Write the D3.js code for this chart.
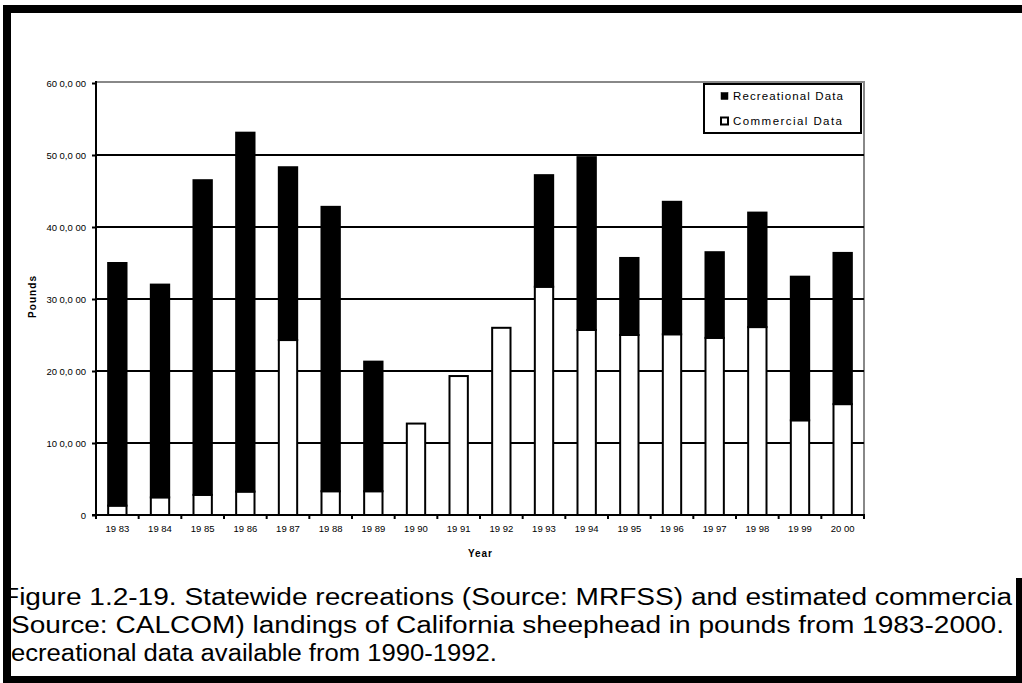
<!DOCTYPE html>
<html>
<head>
<meta charset="utf-8">
<script src="https://cdn.jsdelivr.net/npm/d3@7"></script>
<style>
  html, body { margin: 0; padding: 0; background: #fff; }
  svg { display: block; font-family: "Liberation Sans", Arial, sans-serif; }
</style>
</head>
<body>
<svg id="chart" width="1022" height="683"></svg>
<script>
// ---- data ----
const years = ["1983","1984","1985","1986","1987","1988","1989","1990","1991","1992","1993","1994","1995","1996","1997","1998","1999","2000"];
const yearLabels = ["19 83","19 84","19 85","19 86","19 87","19 88","19 89","19 90","19 91","19 92","19 93","19 94","19 95","19 96","19 97","19 98","19 99","20 00"];
const commercial = [13000, 24500, 28000, 32500, 243000, 33000, 33000, 127000, 193000, 260000, 317000, 257000, 250000, 251000, 246000, 261000, 131500, 154000];
const recreational = [337000, 295500, 437000, 498500, 240000, 395000, 180000, 0, 0, 0, 155000, 240000, 107000, 184000, 119000, 159000, 199500, 210000];
const yTickValues = [0, 100000, 200000, 300000, 400000, 500000, 600000];
const yTickLabels = ["0", "10 0,0 00", "20 0,0 00", "30 0,0 00", "40 0,0 00", "50 0,0 00", "60 0,0 00"];
const seriesNames = ["Recreational Data", "Commercial Data"];
const captionLines = [
  "Figure 1.2-19.  Statewide recreations (Source: MRFSS) and estimated commercia",
  "Source: CALCOM) landings of California sheephead in pounds from 1983-2000.",
  "ecreational data available from 1990-1992."
];

// ---- layout ----
const svg = d3.select("#chart");
const plot = { left: 96, right: 864, top: 83, bottom: 515 };

const rows = years.map((y, i) => ({ year: y, commercial: commercial[i], recreational: recreational[i] }));
const stacked = d3.stack().keys(["commercial", "recreational"])(rows);

const y = d3.scaleLinear().domain([0, 600000]).range([plot.bottom, plot.top]);
const xCat = d3.scaleBand().domain(years).range([plot.left, plot.right]).padding(0);
const xBar = d3.scaleBand().domain(years).range([plot.left, plot.right]).paddingInner(0.57).paddingOuter(0.285);

// plot area frame (gray top & right)
svg.append("line").attr("x1", plot.left).attr("x2", plot.right + 1).attr("y1", plot.top - 1).attr("y2", plot.top - 1)
  .attr("stroke", "#888").attr("stroke-width", 2);
svg.append("line").attr("x1", plot.right).attr("x2", plot.right).attr("y1", plot.top - 1).attr("y2", plot.bottom)
  .attr("stroke", "#888").attr("stroke-width", 2);

// gridlines
svg.append("g").selectAll("line").data(yTickValues.filter(v => v > 0 && v < 600000)).join("line")
  .attr("x1", plot.left).attr("x2", plot.right)
  .attr("y1", d => y(d)).attr("y2", d => y(d))
  .attr("stroke", "#000").attr("stroke-width", 2);

// bars
const fills = { commercial: "#fff", recreational: "#000" };
svg.append("g").selectAll("g").data(stacked).join("g")
  .attr("fill", d => fills[d.key])
  .selectAll("rect").data(d => d.filter(s => s[1] - s[0] > 0)).join("rect")
  .attr("x", d => xBar(d.data.year))
  .attr("width", xBar.bandwidth())
  .attr("y", d => y(d[1]))
  .attr("height", d => y(d[0]) - y(d[1]))
  .attr("stroke", "#000").attr("stroke-width", 2);

// y axis
const yAxis = d3.axisLeft(y).tickValues(yTickValues).tickFormat((d, i) => yTickLabels[i]).tickSize(4).tickPadding(6);
const gy = svg.append("g").attr("transform", `translate(${plot.left},0)`).call(yAxis);
gy.select(".domain").remove();
gy.selectAll(".tick line").attr("stroke", "#000").attr("stroke-width", 2);
gy.selectAll(".tick text").attr("font-size", 9.5).attr("fill", "#000")
  .attr("font-family", "'Liberation Sans', Arial, sans-serif");
svg.append("line").attr("x1", plot.left).attr("x2", plot.left).attr("y1", plot.top - 2).attr("y2", plot.bottom + 1)
  .attr("stroke", "#000").attr("stroke-width", 2);

// x axis
const xAxis = d3.axisBottom(xCat).tickFormat((d, i) => yearLabels[i]).tickSize(0).tickPadding(10);
const gx = svg.append("g").attr("transform", `translate(0,${plot.bottom})`).call(xAxis);
gx.select(".domain").remove();
gx.selectAll(".tick text").attr("font-size", 9.5).attr("fill", "#000")
  .attr("font-family", "'Liberation Sans', Arial, sans-serif");
svg.append("line").attr("x1", plot.left - 4).attr("x2", plot.right + 1).attr("y1", plot.bottom).attr("y2", plot.bottom)
  .attr("stroke", "#000").attr("stroke-width", 2);
const boundaries = years.map(d => xCat(d)).concat([plot.right]);
svg.append("g").selectAll("line").data(boundaries).join("line")
  .attr("x1", d => d).attr("x2", d => d)
  .attr("y1", plot.bottom).attr("y2", plot.bottom + 4)
  .attr("stroke", "#000").attr("stroke-width", 2);

// axis titles
svg.append("text").attr("x", (plot.left + plot.right) / 2).attr("y", 557)
  .attr("text-anchor", "middle").attr("font-size", 10).attr("font-weight", "bold")
  .attr("textLength", 24).attr("lengthAdjust", "spacing").text("Year");
svg.append("text").attr("transform", `translate(36,${(plot.top + plot.bottom) / 2 - 2}) rotate(-90)`)
  .attr("text-anchor", "middle").attr("font-size", 10).attr("font-weight", "bold")
  .attr("textLength", 42).attr("lengthAdjust", "spacing").text("Pounds");

// legend
const lg = svg.append("g");
lg.append("rect").attr("x", 704).attr("y", 84).attr("width", 157).attr("height", 49)
  .attr("fill", "#fff").attr("stroke", "#000").attr("stroke-width", 2);
const legendFills = ["#000", "#fff"];
const legendLens = [110, 109];
seriesNames.forEach((name, i) => {
  const cy = 96 + i * 25;
  lg.append("rect").attr("x", 721).attr("y", cy - 3.5).attr("width", 7).attr("height", 7)
    .attr("fill", legendFills[i]).attr("stroke", "#000").attr("stroke-width", i === 0 ? 0.5 : 2);
  lg.append("text").attr("x", 733).attr("y", cy + 4).attr("font-size", 11.5)
    .attr("textLength", legendLens[i]).attr("lengthAdjust", "spacing").text(name);
});

// caption
const capStarts = [2, 11, 11];
const capWidths = [1010, 993, 486];
const capBase = [605, 633, 661];
captionLines.forEach((t, i) => {
  svg.append("text").attr("x", capStarts[i]).attr("y", capBase[i])
    .attr("font-size", 23.5)
    .attr("textLength", capWidths[i]).attr("lengthAdjust", "spacingAndGlyphs")
    .text(t);
});

// outer frame
svg.append("rect").attr("x", 3).attr("y", 5).attr("width", 1019).attr("height", 8).attr("fill", "#000");
svg.append("rect").attr("x", 3).attr("y", 5).attr("width", 8).attr("height", 678).attr("fill", "#000");
svg.append("rect").attr("x", 3).attr("y", 676).attr("width", 1019).attr("height", 7).attr("fill", "#000");
svg.append("rect").attr("x", 1016).attr("y", 578).attr("width", 6).attr("height", 105).attr("fill", "#000");
</script>
</body>
</html>
